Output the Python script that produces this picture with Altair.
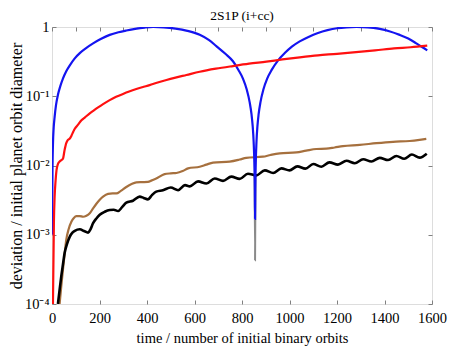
import altair as alt
import pandas as pd

# ---------------- data ----------------
blue_t = [0.3, 2, 4, 7, 11, 17, 25, 35, 46, 60, 75, 95, 117, 145, 173, 205, 243, 280, 313, 350, 390, 426,
          470, 520, 570, 622, 660, 692, 730, 762, 785, 804, 820, 832, 840, 845, 849, 852, 854, 855,
          856, 858, 861, 865, 870, 878, 890, 906, 925, 952, 980, 1010, 1043, 1080, 1120, 1160, 1200,
          1240, 1282, 1330, 1380, 1420, 1464, 1500, 1534, 1560, 1580]
blue_v = [0.001, 0.008, 0.02, 0.035, 0.05, 0.075, 0.105, 0.14, 0.18, 0.23, 0.28, 0.35, 0.42, 0.5, 0.58, 0.67,
          0.77, 0.84, 0.89, 0.94, 0.98, 1.0,
          0.99, 0.95, 0.88, 0.77, 0.65, 0.53, 0.41, 0.32, 0.24, 0.18, 0.125, 0.083, 0.055, 0.037, 0.022,
          0.011, 0.0045, 0.0017,
          0.0045, 0.011, 0.022, 0.037, 0.055, 0.083, 0.125, 0.18, 0.24, 0.33, 0.42, 0.52, 0.62, 0.72, 0.82,
          0.9, 0.96, 0.99, 1.0, 0.99, 0.94, 0.87, 0.77, 0.68, 0.58, 0.51, 0.46]

gray_t = [853, 855, 857]
gray_v = [0.0075, 0.00043, 0.0075]

red_t = [4, 8, 11, 15, 19, 25, 32, 40, 46, 53, 60, 67, 75, 82, 90, 96, 110, 124, 140, 159, 175, 194, 215,
         243, 270, 299, 325, 355, 380, 411, 445, 482, 520, 566, 622, 690, 762, 830, 903, 970, 1043, 1120,
         1200, 1280, 1360, 1440, 1510, 1580]
red_v = [0.0001, 0.0015, 0.0035, 0.006, 0.0086, 0.0105, 0.0114, 0.012, 0.0125, 0.0167, 0.021, 0.0234,
         0.0245, 0.027, 0.031, 0.034, 0.039, 0.045, 0.05, 0.0565, 0.062, 0.069, 0.077, 0.088, 0.098,
         0.108, 0.117, 0.127, 0.135, 0.145, 0.158, 0.172, 0.186, 0.203, 0.226, 0.25, 0.273, 0.295,
         0.316, 0.34, 0.365, 0.39, 0.41, 0.435, 0.46, 0.49, 0.51, 0.537]

brown_t = [32, 39, 46, 53, 60, 70, 82, 92, 103, 117, 131, 145, 159, 173, 187, 201, 215, 236, 255, 271,
           290, 313, 335, 355, 380, 404, 420, 439, 474, 500, 524, 550, 573, 622, 650, 678, 748, 790,
           818, 888, 920, 959, 1029, 1070, 1113, 1155, 1190, 1225, 1296, 1366, 1436, 1506, 1540, 1576]
brown_v = [0.0001, 0.00018, 0.00031, 0.00052, 0.00084, 0.0012, 0.00155, 0.00175, 0.00186, 0.00186,
           0.00182, 0.00188, 0.00204, 0.0024, 0.0028, 0.0032, 0.00355, 0.0039, 0.00395, 0.00395,
           0.0043, 0.0049, 0.0054, 0.0057, 0.00575, 0.0058, 0.0061, 0.0065, 0.0075, 0.0077, 0.0078,
           0.0083, 0.0091, 0.0096, 0.0103, 0.011, 0.0114, 0.0122, 0.0129, 0.0134, 0.0142, 0.015,
           0.0155, 0.0164, 0.0173, 0.0175, 0.0182, 0.019, 0.0198, 0.021, 0.022, 0.0226, 0.0232, 0.0242]

black_t = [25, 32, 39, 46, 53, 63, 75, 86, 96, 117, 135, 152, 162, 173, 187, 201, 222, 243, 260, 278,
           295, 313, 341, 369, 386, 404, 420, 439, 467, 500, 531, 560, 580, 615, 650, 685, 720, 755,
           790, 825, 860, 896, 931, 966, 1000, 1033, 1067, 1100, 1134, 1168, 1204, 1240, 1275, 1310,
           1345, 1380, 1415, 1450, 1483, 1515, 1548, 1578]
black_v = [0.0001, 0.00016, 0.00025, 0.00037, 0.00054, 0.00073, 0.00094, 0.00107, 0.00114, 0.0012,
           0.00113, 0.00107, 0.0012, 0.00147, 0.00172, 0.00194, 0.00215, 0.00228, 0.0023, 0.0022,
           0.0025, 0.0029, 0.0031, 0.00355, 0.0034, 0.00324, 0.0037, 0.0042, 0.0044, 0.0048, 0.0044,
           0.0052, 0.005, 0.0059, 0.0055, 0.0065, 0.006, 0.0069, 0.0064, 0.0076, 0.0072, 0.0085,
           0.0078, 0.0091, 0.0085, 0.0097, 0.009, 0.0105, 0.0096, 0.0111, 0.0103, 0.0117, 0.0108,
           0.0123, 0.0114, 0.0129, 0.012, 0.0137, 0.0125, 0.0144, 0.013, 0.0148]

x_ticks = [0, 200, 400, 600, 800, 1000, 1200, 1400, 1600]
x_top_ticks = list(range(0, 1601, 100))
y_ticks = [0.0001, 0.001, 0.01, 0.1, 1]

# ---------------- styling ----------------
FONT = "Liberation Serif"
FRAME = "#808080"

xs = alt.Scale(domain=[0, 1600], nice=False, zero=False)
ys = alt.Scale(type="log", domain=[0.0001, 1], nice=False)

label_expr = ("datum.value >= 0.5 ? '1' : datum.value >= 0.05 ? '10\u207b\u00b9' : "
              "datum.value >= 0.005 ? '10\u207b\u00b2' : datum.value >= 0.0005 ? '10\u207b\u00b3' : '10\u207b\u2074'")

x_bottom = alt.Axis(orient="bottom", values=x_ticks, format="d", tickSize=4, offset=-4, domain=False,
                    grid=False, tickColor=FRAME, labelFont=FONT, labelFontSize=14.5, labelColor="black",
                    labelPadding=7, labelFlush=False,
                    title="time / number of initial binary orbits", titleFont=FONT, titleFontSize=14.5,
                    titleFontWeight="normal", titleColor="black", titlePadding=7)
y_left = alt.Axis(orient="left", values=y_ticks, tickSize=4, offset=-4, domain=False, grid=False,
                  tickColor=FRAME, labelExpr=label_expr, labelFont=FONT, labelFontSize=14.5,
                  labelColor="black", labelPadding=3, labelFlush=False,
                  title="deviation / initial planet orbit diameter", titleFont=FONT, titleFontSize=16,
                  titleFontWeight="normal", titleColor="black", titlePadding=0)
x_top = alt.Axis(orient="top", values=x_top_ticks, tickSize=4, offset=-4, domain=False, grid=False,
                 tickColor=FRAME, labels=False, title=None)
y_right = alt.Axis(orient="right", values=y_ticks, tickSize=4, offset=-4, domain=False, grid=False,
                   tickColor=FRAME, labels=False, title=None)


def series(t, v, color, width, opacity=1.0, xaxis=None, yaxis=None):
    df = pd.DataFrame({"t": t, "v": v})
    return alt.Chart(df).mark_line(color=color, strokeWidth=width, interpolate="monotone",
                                   clip=True, opacity=opacity).encode(
        x=alt.X("t:Q", scale=xs, axis=xaxis),
        y=alt.Y("v:Q", scale=ys, axis=yaxis),
        order=alt.Order("t:Q"),
    )


axes_a = series(black_t, black_v, "black", 1, opacity=0, xaxis=x_bottom, yaxis=y_left)
axes_b = series(black_t, black_v, "black", 1, opacity=0, xaxis=x_top, yaxis=y_right)
gray = series(gray_t, gray_v, "#8a8a8a", 2)
brown = series(brown_t, brown_v, "#a6703e", 2.2)
black = series(black_t, black_v, "black", 2.6)
blue = series(blue_t, blue_v, "#1414f0", 2.2)
red = series(red_t, red_v, "#ff1010", 2.2)

chart = alt.layer(axes_a, axes_b, gray, brown, black, blue, red).resolve_axis(
    x="independent", y="independent"
).properties(
    width=380, height=277,
    title=alt.TitleParams("2S1P (i+cc)", font=FONT, fontSize=13.5, fontWeight="normal",
                          color="black", anchor="middle", offset=-3),
    autosize=alt.AutoSizeParams(type="none"),
    padding={"left": 44, "top": 19, "right": 20, "bottom": 50},
).configure_view(stroke=FRAME, strokeWidth=1.5).configure(background="white")

chart.save("out.html", embed_options={"renderer": "svg", "actions": False})
